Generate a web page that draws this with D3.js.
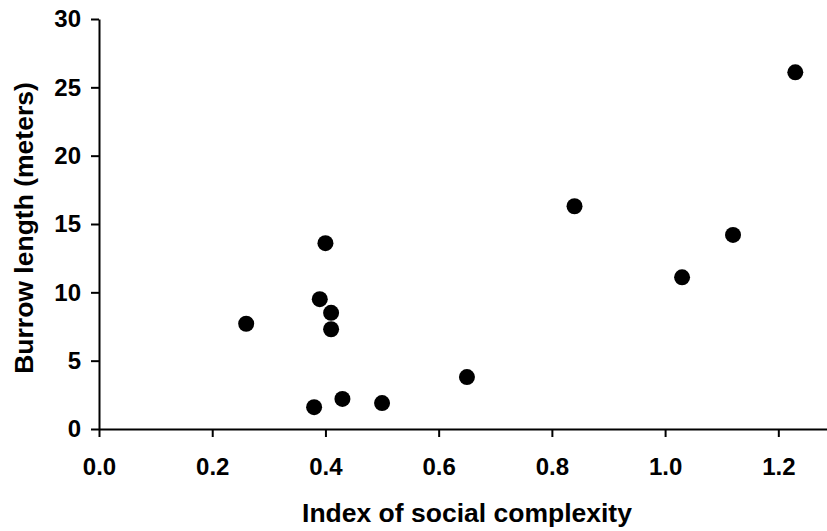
<!DOCTYPE html>
<html>
<head>
<meta charset="utf-8">
<script src="https://cdn.jsdelivr.net/npm/d3@7"></script>
<style>
  body { margin: 0; background: #fff; }
  svg { display: block; }
  .axis text { font-family: "Liberation Sans", Arial, sans-serif; font-weight: bold; font-size: 24px; fill: #000; }
  .axis path, .axis line { stroke: #000; stroke-width: 2px; }
  .title { font-family: "Liberation Sans", Arial, sans-serif; font-weight: bold; font-size: 26.5px; fill: #000; }
</style>
</head>
<body>
<div id="chart"></div>
<script>
// social complexity index vs burrow length
const socialIndex = [0.26, 0.38, 0.39, 0.40, 0.41, 0.41, 0.43, 0.50, 0.65, 0.84, 1.03, 1.12, 1.23];
const burrowLength = [7.7, 1.6, 9.5, 13.6, 8.5, 7.3, 2.2, 1.9, 3.8, 16.3, 11.1, 14.2, 26.1];
const xTicks = [0, 0.2, 0.4, 0.6, 0.8, 1.0, 1.2];
const yTicks = [0, 5, 10, 15, 20, 25, 30];

const width = 827, height = 531;

const svg = d3.select("#chart")
  .append("svg")
  .attr("width", width)
  .attr("height", height);

const x = d3.scaleLinear()
  .domain([0, 1.286])
  .range([99, 827]);

const y = d3.scaleLinear()
  .domain([0, 30])
  .range([429, 19]);

// x axis
svg.append("g")
  .attr("class", "axis")
  .attr("transform", "translate(0,429)")
  .call(d3.axisBottom(x).tickValues(xTicks).tickFormat(d3.format(".1f")).tickSize(8).tickSizeOuter(0).tickPadding(21));

// y axis
svg.append("g")
  .attr("class", "axis")
  .attr("transform", "translate(99,0)")
  .call(d3.axisLeft(y).tickValues(yTicks).tickSize(8).tickSizeOuter(0).tickPadding(10));

// points
svg.append("g")
  .selectAll("circle")
  .data(socialIndex)
  .enter()
  .append("circle")
  .attr("cx", d => x(d))
  .attr("cy", (d, i) => y(burrowLength[i]))
  .attr("r", 8)
  .style("fill", "#000");

// axis titles
svg.append("text")
  .attr("class", "title")
  .attr("x", 467)
  .attr("y", 522)
  .attr("text-anchor", "middle")
  .text("Index of social complexity");

svg.append("text")
  .attr("class", "title")
  .attr("transform", "translate(33,228) rotate(-90)")
  .attr("text-anchor", "middle")
  .text("Burrow length (meters)");
</script>
</body>
</html>
